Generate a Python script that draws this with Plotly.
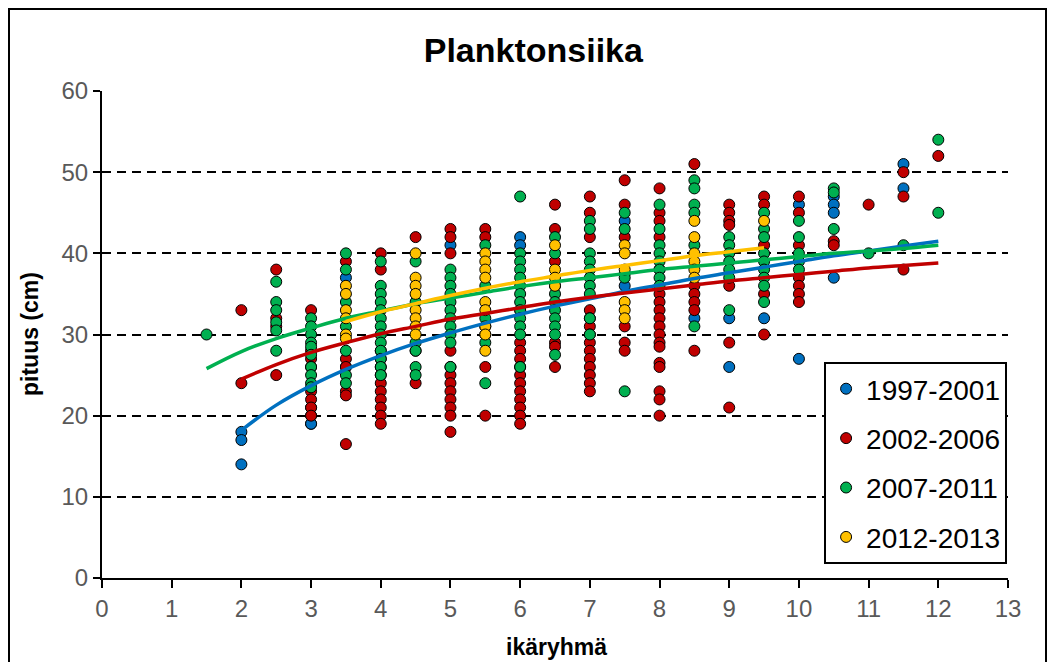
import plotly.graph_objects as go

# ---------------- data ----------------
SERIES_NAMES = ["1997-2001", "2002-2006", "2007-2011", "2012-2013"]
SERIES_COLORS = ["#0070C0", "#C00000", "#00B050", "#FFC000"]

BLUE = {
    2: [18, 17, 14],
    3: [21, 20, 19, 19],
    3.5: [37, 26],
    5: [41],
    6: [42, 41],
    7.5: [44, 36],
    8: [38],
    8.5: [32],
    9: [32, 26],
    9.5: [32],
    10: [46, 27],
    10.5: [47, 46, 45, 37],
    11.5: [51, 48],
}
RED = {
    2: [33, 24],
    2.5: [38, 32, 31, 25],
    3: [33, 28, 27, 26, 23, 22, 21, 20],
    3.5: [39, 27, 26, 23, 22.5, 16.5],
    4: [40, 38, 30, 28, 27, 26, 25, 24, 23, 22, 21, 20, 19],
    4.5: [42, 28, 24],
    5: [43, 42, 40, 28, 26, 25, 24, 23, 22, 21, 20, 18],
    5.5: [43, 42, 31, 30, 26, 20],
    6: [33, 29, 28, 27, 26, 25, 24, 23, 22, 21, 20, 19],
    6.5: [46, 43, 39, 29, 28.5, 26],
    7: [47, 45, 42, 33, 32, 31, 30, 29, 28, 27, 26, 25, 24, 23],
    7.5: [49, 46, 42, 31, 29, 28],
    8: [48, 45, 44, 42, 35, 34, 33, 32, 31, 30, 29, 28.5, 26.5, 26, 23, 22, 20],
    8.5: [51, 36, 35, 34, 33, 28],
    9: [46, 45, 44, 43.5, 36, 29, 21],
    9.5: [47, 46, 41, 35, 30],
    10: [47, 45, 41, 37, 36, 35, 34],
    10.5: [41.5, 41],
    11: [46],
    11.5: [50, 47, 38],
    12: [52],
}
GREEN = {
    1.5: [30],
    2.5: [36.5, 34, 33, 31.5, 30.5, 28],
    3: [32, 31, 30, 29, 28.5, 27.5, 26, 25, 24, 23.5],
    3.5: [40, 38, 34, 31, 28, 25, 24],
    4: [39, 36, 35, 34, 33, 32, 31, 30, 29, 28, 27, 26, 25],
    4.5: [39, 34, 29, 28, 26, 25],
    5: [38, 37, 36, 35, 34, 33, 32, 31, 30, 29, 26],
    5.5: [41, 36, 32, 29, 24],
    6: [47, 40, 39, 38, 37, 36, 35, 34, 33, 32, 31, 30, 26],
    6.5: [42, 40, 36, 35, 34, 33, 32, 31, 30, 27.5],
    7: [44, 43, 40, 39, 38, 37, 36, 35, 32, 30],
    7.5: [45, 43, 37.5, 37, 23],
    8: [46, 43, 41, 40, 39, 38, 37, 36],
    8.5: [49, 48, 46, 45, 41, 31],
    9: [42, 41, 40, 39, 38, 37, 33],
    9.5: [45, 43, 42, 40, 39, 38, 37, 36, 34],
    10: [44, 42, 40, 39, 38],
    10.5: [48, 47.5, 43],
    11: [40],
    11.5: [41],
    12: [54, 45],
}
YELLOW = {
    3.5: [36, 35, 33, 32, 30, 29.5],
    4.5: [40, 37, 36, 35, 33, 32, 31, 30],
    5.5: [40, 39, 38, 37, 34, 33, 31, 30, 28],
    6.5: [41, 38, 37, 36],
    7.5: [41, 40, 38, 34, 33, 32],
    8.5: [44, 42, 40, 39, 38, 37],
    9.5: [44],
}

# trend lines
TREND_BLUE_X = [2, 2.5, 3, 3.5, 4, 4.5, 5, 5.5, 6, 6.5, 7, 7.5, 8, 8.5, 9, 9.5, 10, 10.5, 11, 11.5, 12]
TREND_BLUE_Y = [18.2, 21.3, 23.7, 25.7, 27.4, 28.9, 30.2, 31.4, 32.5, 33.5, 34.4, 35.3, 36.1, 36.9, 37.6, 38.3, 39.0, 39.7, 40.3, 40.9, 41.5]
TREND_RED_X = [2, 2.5, 3, 3.5, 4, 4.5, 5, 5.5, 6, 6.5, 7, 7.5, 8, 8.5, 9, 9.5, 10, 10.5, 11, 11.5, 12]
TREND_RED_Y = [24.5, 26.3, 27.8, 29.0, 30.1, 31.0, 31.9, 32.6, 33.3, 34.0, 34.6, 35.1, 35.6, 36.1, 36.6, 37.0, 37.4, 37.8, 38.2, 38.5, 38.8]
TREND_GREEN_X = [1.5, 2, 2.5, 3, 3.5, 4, 4.5, 5, 5.5, 6, 6.5, 7, 7.5, 8, 8.5, 9, 9.5, 10, 10.5, 11, 11.5, 12]
TREND_GREEN_Y = [25.8, 27.9, 29.5, 30.8, 32.0, 32.9, 33.8, 34.5, 35.2, 35.9, 36.5, 37.0, 37.5, 38.0, 38.4, 38.8, 39.2, 39.6, 40.0, 40.3, 40.6, 41.0]
TREND_YELLOW_X = [3.5, 4, 4.5, 5, 5.5, 6, 6.5, 7, 7.5, 8, 8.5, 9, 9.5]
TREND_YELLOW_Y = [31.6, 32.8, 33.8, 34.8, 35.7, 36.5, 37.2, 37.9, 38.5, 39.1, 39.7, 40.2, 40.7]

X_TICKS = list(range(0, 14))
Y_TICKS = list(range(0, 70, 10))

# ---------------- figure ----------------
fig = go.Figure()

groups = [BLUE, RED, GREEN, YELLOW]
for name, color, grp in zip(SERIES_NAMES, SERIES_COLORS, groups):
    xs, ys = [], []
    for age, vals in grp.items():
        for v in vals:
            xs.append(age)
            ys.append(v)
    fig.add_trace(go.Scatter(
        x=xs, y=ys, mode="markers", name=name, legendgroup=name,
        marker=dict(size=11, color=color, line=dict(color="#000000", width=1)),
    ))

trends = [
    (TREND_BLUE_X, TREND_BLUE_Y, SERIES_COLORS[0]),
    (TREND_RED_X, TREND_RED_Y, SERIES_COLORS[1]),
    (TREND_GREEN_X, TREND_GREEN_Y, SERIES_COLORS[2]),
    (TREND_YELLOW_X, TREND_YELLOW_Y, SERIES_COLORS[3]),
]
for tx, ty, color in trends:
    fig.add_trace(go.Scatter(
        x=tx, y=ty, mode="lines", line=dict(color=color, width=3.5, shape="spline"),
        showlegend=False, hoverinfo="skip",
    ))

TICK_FONT = dict(family="Liberation Sans, Arial", size=24, color="#595959")

fig.update_layout(
    width=1052, height=662,
    margin=dict(l=102, r=44, t=91, b=84),
    paper_bgcolor="white", plot_bgcolor="white",
    title=dict(text="<b>Planktonsiika</b>", x=0.507, xref="container", xanchor="center",
               y=1 - 50 / 662, yref="container", yanchor="middle",
               font=dict(family="Liberation Sans, Arial", size=34, color="#000000")),
    showlegend=True,
    legend=dict(x=0.797, y=0.4435, xanchor="left", yanchor="top",
                bgcolor="white", bordercolor="#000000", borderwidth=2,
                font=dict(family="Liberation Sans, Arial", size=28, color="#000000"),
                tracegroupgap=10, itemwidth=30),
    xaxis=dict(range=[0, 13], tickmode="array", tickvals=X_TICKS,
               showgrid=False, zeroline=False,
               showline=True, linecolor="#000000", linewidth=2,
               ticks="outside", ticklen=8, tickwidth=2, tickcolor="#000000",
               tickfont=TICK_FONT, fixedrange=True),
    yaxis=dict(range=[0, 60], tickmode="array", tickvals=Y_TICKS,
               showgrid=True, gridcolor="#000000", gridwidth=1.5, griddash="9px,6px",
               zeroline=False,
               showline=True, linecolor="#000000", linewidth=2,
               ticks="outside", ticklen=7, tickwidth=2, tickcolor="#000000",
               tickfont=TICK_FONT, fixedrange=True),
    annotations=[
        dict(text="<b>pituus (cm)</b>", x=-0.08, y=0.5, xref="paper", yref="paper",
             textangle=-90, showarrow=False, xanchor="center", yanchor="middle",
             font=dict(family="Liberation Sans, Arial", size=23, color="#000000")),
        dict(text="<b>ikäryhmä</b>", x=(556 - 102) / 906, y=(578 - 647) / 487, xref="paper", yref="paper",
             showarrow=False, xanchor="center", yanchor="middle",
             font=dict(family="Liberation Sans, Arial", size=23, color="#000000")),
    ],
    shapes=[
        dict(type="rect", xref="paper", yref="paper",
             x0=(9 - 102) / 906, x1=(1046 - 102) / 906,
             y0=(578 - 670) / 487, y1=(578 - 9) / 487,
             line=dict(color="#000000", width=2), fillcolor="rgba(0,0,0,0)", layer="below"),
    ],
)

fig.write_html("out.html", config={"displayModeBar": False},
               post_script="document.body.style.margin='0';document.body.style.overflow='hidden';")
